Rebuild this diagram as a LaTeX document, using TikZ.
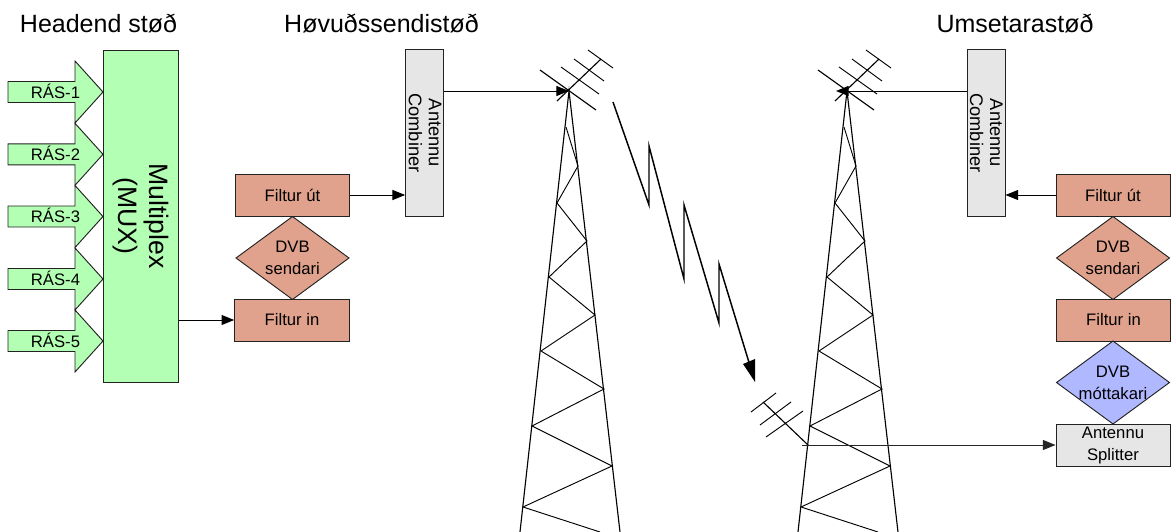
\documentclass[tikz,border=0pt]{standalone}
\usepackage{fontspec}
\setmainfont{Liberation Sans}
\usetikzlibrary{arrows.meta,shapes.geometric}
\definecolor{boxgreen}{HTML}{B3FFB3}
\definecolor{boxsalmon}{HTML}{E0A28C}
\definecolor{boxblue}{HTML}{B0B8FF}
\definecolor{boxgray}{HTML}{E6E6E6}
\definecolor{edge}{HTML}{222222}
\tikzset{
  title/.style={anchor=base,inner sep=0,font=\fontsize{18.75}{22}\selectfont},
  small/.style={font=\fontsize{12.5}{16.5}\selectfont,align=center,text=black},
  boxbase/.style={draw=edge,line width=.7pt,inner sep=0,small},
  filt/.style={boxbase,fill=boxsalmon,minimum width=85.5pt,minimum height=31.5pt},
  dia/.style={boxbase,diamond,inner sep=-14pt,minimum width=85pt,minimum height=62.5pt},
  grayv/.style={boxbase,fill=boxgray,minimum width=28.5pt,minimum height=125pt},
  vtext/.style={rotate=-90,font=\fontsize{13.7}{15}\selectfont},
  link/.style={line width=.75pt,-{Triangle[length=9.5pt,width=7.5pt]},shorten >=0pt},
  steel/.style={line width=.85pt,black},
  thinsteel/.style={line width=.7pt,black},
}
\begin{document}
\begin{tikzpicture}[x=0.75pt,y=-0.75pt]
\useasboundingbox (0,0) rectangle (1175,532);
% titles
\node[title] (t1) at (98.5,32) {Headend støð};
\node[title] (t2) at (381.5,32) {Høvuðssendistøð};
\node[title] (t3) at (1015,32) {Umsetarastøð};
% channel arrows
\foreach \i/\yy in {1/92,2/154.3,3/216.5,4/279,5/341}{
  \draw[draw=edge,line width=.7pt,fill=boxgreen,shift={(0,\yy)}]
    (8,-10.5) -- (75,-10.5) -- (75,-31) -- (103,0) -- (75,31) -- (75,10.5) -- (8,10.5) -- cycle;
  \node[small,inner sep=0] (ras\i) at (55.5,\yy-1) {RÁS-\i};
}
% multiplexer
\node[boxbase,fill=boxgreen,minimum width=56.5pt,minimum height=249pt] (mux) at (140.75,216) {};
\node[vtext,inner sep=0,align=center,font=\fontsize{20}{23}\selectfont] (muxt) at (141,216) {Multiplex\\(MUX)};
% left chain
\node[filt] (fu1) at (292.5,195) {Filtur út};
\node[dia,fill=boxsalmon] (ds1) at (292.5,258) {DVB\\sendari};
\node[filt,minimum width=86pt] (fi1) at (292,320) {Filtur in};
\node[grayv] (ac1) at (424.6,133) {};
\node[vtext,inner sep=0,align=center] (ac1t) at (425,133) {Antennu\\Combiner};
% right chain
\node[grayv] (ac2) at (986,133) {};
\node[vtext,inner sep=0,align=center] (ac2t) at (986.4,133) {Antennu\\Combiner};
\node[filt] (fu2) at (1113,195) {Filtur út};
\node[dia,fill=boxsalmon] (ds2) at (1113,258) {DVB\\sendari};
\node[filt] (fi2) at (1113.5,320) {Filtur in};
\node[dia,fill=boxblue] (dm2) at (1113,382.5) {DVB\\móttakari};
\node[filt,fill=boxgray] (sp2) at (1113,445) {Antennu\\Splitter};
% towers
\foreach \dx in {0,278}{
  \begin{scope}[shift={(\dx,0)}]
    \draw[steel] (520,532) -- (569,91) -- (620,532);
    \draw[thinsteel] (566,127) -- (578,166) -- (557,203) -- (587,241) -- (549,277) -- (595,315)
      -- (541,351) -- (604,389) -- (532,426) -- (612,466) -- (523,507) -- (600,532);
    \draw[steel] (557,101) -- (601,59);
    \draw[steel] (540,70) -- (596,110);
    \draw[thinsteel] (561,67) -- (599,94) (574,59) -- (604,81) (588,50) -- (613,68);
  \end{scope}
}
\coordinate (ant1) at (569,91);
\coordinate (ant2) at (836,91);
% receive antenna
\coordinate (rx) at (802,445);
\draw[steel] (763,402) -- (808,445);
\draw[thinsteel] (751,412) -- (776,393) (760,425) -- (791,402) (766,437) -- (803,411);
% connectors
\draw[link] (mux.east |- fi1.west) -- (fi1.west);
\draw[link] (fu1.east) -- (fu1.east -| ac1.west);
\draw[link] (ac1.east |- ant1) -- (ant1);
\draw[link] (ac2.west |- ant2) -- (ant2);
\draw[link] (fu2.west) -- (fu2.west -| ac2.east);
\draw[link,draw=black!85,fill=black] (rx) -- (sp2.west);
% radio link
\coordinate (z0) at (613,102);
\coordinate (zt) at (755,382);
\draw[line width=1.1pt,miter limit=20] (z0) -- (649,205) -- (649,146) -- (684,279) -- (684,205) -- (719,323) -- (719,264) -- (751,369);
\fill (zt) -- (743,364) -- (755,359) -- cycle;
\end{tikzpicture}
\end{document}
